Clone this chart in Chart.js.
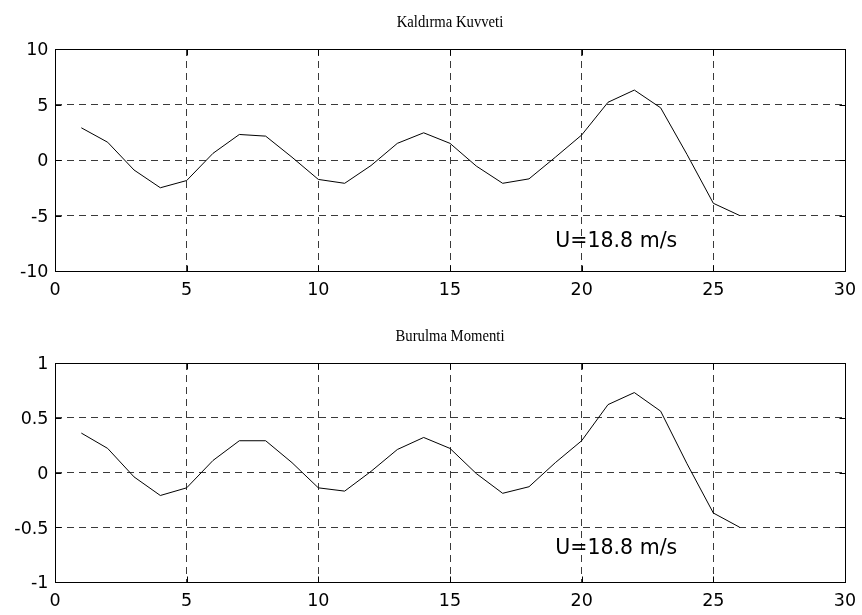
<!DOCTYPE html>
<html>
<head>
<meta charset="utf-8">
<script src="https://cdn.jsdelivr.net/npm/chart.js@4/dist/chart.umd.min.js"></script>
<style>
  html, body { margin: 0; padding: 0; background: #fff; }
  #wrap { position: relative; width: 862px; height: 615px; overflow: hidden; }
  .panel { position: absolute; left: 0; width: 862px; }
  canvas { display: block; }
</style>
</head>
<body>
<div id="wrap">
  <div class="panel" style="top:0;height:310px"><canvas id="lift" width="862" height="310"></canvas></div>
  <div class="panel" style="top:310px;height:305px"><canvas id="moment" width="862" height="305"></canvas></div>
</div>
<script>
// Sample index along the horizontal axis
const steps = [1, 2, 3, 4, 5, 6, 7, 8, 9, 10, 11, 12, 13, 14, 15, 16, 17, 18, 19, 20, 21, 22, 23, 24, 25, 26];

// Lift force (Kaldırma Kuvveti)
const liftForce = [2.9, 1.6, -0.9, -2.5, -1.85, 0.6, 2.3, 2.15, 0.25, -1.75, -2.1, -0.5, 1.5,
                   2.45, 1.5, -0.55, -2.1, -1.7, 0.25, 2.25, 5.2, 6.3, 4.7, 0.5, -3.9, -5.0];

// Torsional moment (Burulma Momenti)
const torsionMoment = [0.36, 0.22, -0.04, -0.21, -0.14, 0.11, 0.29, 0.29, 0.09, -0.14, -0.17, 0.01, 0.21,
                       0.32, 0.22, -0.01, -0.19, -0.13, 0.09, 0.29, 0.62, 0.73, 0.56, 0.08, -0.37, -0.5];

// Tick values and their printed labels
const xTicks = [0, 5, 10, 15, 20, 25, 30];
const xTickLabels = ['0', '5', '10', '15', '20', '25', '30'];
const liftTicks = [-10, -5, 0, 5, 10];
const liftTickLabels = ['-10', '-5', '0', '5', '10'];
const momentTicks = [-1, -0.5, 0, 0.5, 1];
const momentTickLabels = ['-1', '-0.5', '0', '0.5', '1'];

// Panel titles and the wind-speed note with its anchor (data coordinates)
const titles = ['Kaldırma Kuvveti', 'Burulma Momenti'];
const noteText = 'U=18.8 m/s';
const liftNoteAt = [19, -7.85];
const momentNoteAt = [19, -0.74];

const TICK_FONT = '17.5px "DejaVu Sans", sans-serif';
const TITLE_FONT = '17.5px "Liberation Serif", "Times New Roman", serif';
const TITLE_SQUEEZE = 0.84;
const NOTE_FONT = '20.5px "DejaVu Sans", sans-serif';

// Box, inward tick marks, tick labels, title and note, drawn in the MATLAB style
const framePlugin = {
  id: 'frame',
  afterDraw(chart, args, opts) {
    const { ctx, chartArea: a, scales } = chart;
    const L = Math.round(a.left) + 0.5, R = Math.round(a.right) + 0.5;
    const T = Math.round(a.top) + 0.5, B = Math.round(a.bottom) + 0.5;
    ctx.save();
    ctx.strokeStyle = '#000';
    ctx.lineWidth = 1;
    ctx.setLineDash([]);
    ctx.strokeRect(L, T, R - L, B - T);
    const len = 6;
    ctx.beginPath();
    scales.x.ticks.forEach(t => {
      const px = Math.round(scales.x.getPixelForValue(t.value)) + 0.5;
      if (px <= L + 1 || px >= R - 1) return;
      ctx.moveTo(px, B); ctx.lineTo(px, B - len);
      ctx.moveTo(px, T); ctx.lineTo(px, T + len);
    });
    scales.y.ticks.forEach(t => {
      const py = Math.round(scales.y.getPixelForValue(t.value)) + 0.5;
      if (py <= T + 1 || py >= B - 1) return;
      ctx.moveTo(L, py); ctx.lineTo(L + len, py);
      ctx.moveTo(R, py); ctx.lineTo(R - len, py);
    });
    ctx.stroke();

    ctx.fillStyle = '#000';
    ctx.textBaseline = 'alphabetic';

    // tick labels
    ctx.font = TICK_FONT;
    ctx.textAlign = 'center';
    xTicks.forEach((v, i) => {
      ctx.fillText(xTickLabels[i], scales.x.getPixelForValue(v), a.bottom + 24);
    });
    ctx.textAlign = 'right';
    opts.yTicks.forEach((v, i) => {
      ctx.fillText(opts.yLabels[i], a.left - 6.5, scales.y.getPixelForValue(v) + 6.4);
    });

    // title, set in a slightly narrowed serif face
    ctx.save();
    ctx.font = TITLE_FONT;
    ctx.textAlign = 'center';
    ctx.translate((a.left + a.right) / 2, a.top - 22.5);
    ctx.scale(TITLE_SQUEEZE, 1);
    ctx.fillText(opts.title, 0, 0);
    ctx.restore();

    // note
    ctx.font = NOTE_FONT;
    ctx.textAlign = 'left';
    ctx.fillText(opts.note, scales.x.getPixelForValue(opts.noteAt[0]), scales.y.getPixelForValue(opts.noteAt[1]));
    ctx.restore();
  }
};

function makePanel(canvasId, values, yTicks, yLabels, title, noteAt, padding) {
  const points = steps.map((s, i) => ({ x: s, y: values[i] }));
  return new Chart(document.getElementById(canvasId), {
    type: 'line',
    data: {
      datasets: [{
        data: points,
        borderColor: '#000',
        borderWidth: 1,
        pointRadius: 0,
        tension: 0,
        fill: false
      }]
    },
    options: {
      responsive: false,
      animation: false,
      layout: { padding },
      plugins: {
        legend: { display: false },
        tooltip: { enabled: false },
        title: { display: false },
        frame: { title, note: noteText, noteAt, yTicks, yLabels }
      },
      scales: {
        x: {
          type: 'linear',
          min: xTicks[0],
          max: xTicks[xTicks.length - 1],
          afterBuildTicks: s => { s.ticks = xTicks.map(v => ({ value: v })); },
          afterFit: s => { s.height = 0; },
          grid: { color: '#3a3a3a', lineWidth: 1, drawTicks: false },
          border: { display: false, dash: [7, 5] },
          ticks: { display: false }
        },
        y: {
          type: 'linear',
          min: yTicks[0],
          max: yTicks[yTicks.length - 1],
          afterBuildTicks: s => { s.ticks = yTicks.map(v => ({ value: v })); },
          afterFit: s => { s.width = 0; },
          grid: { color: '#3a3a3a', lineWidth: 1, drawTicks: false },
          border: { display: false, dash: [7, 5] },
          ticks: { display: false }
        }
      }
    },
    plugins: [framePlugin]
  });
}

makePanel('lift', liftForce, liftTicks, liftTickLabels, titles[0], liftNoteAt,
          { left: 55, right: 17, top: 49, bottom: 39 });
makePanel('moment', torsionMoment, momentTicks, momentTickLabels, titles[1], momentNoteAt,
          { left: 55, right: 17, top: 53, bottom: 33 });
</script>
</body>
</html>
